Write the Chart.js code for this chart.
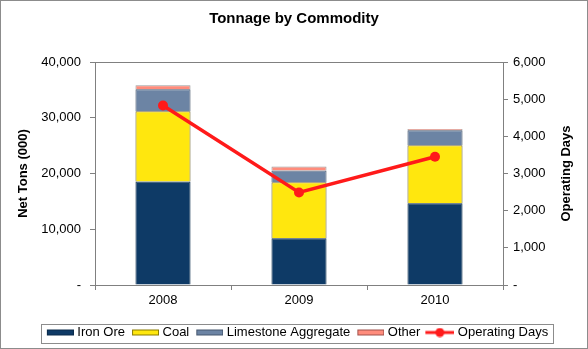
<!DOCTYPE html>
<html>
<head>
<meta charset="utf-8">
<script src="https://cdn.jsdelivr.net/npm/chart.js@4.4.0/dist/chart.umd.min.js"></script>
<style>
  body { margin: 0; background: #fff; }
  canvas { display: block; }
</style>
</head>
<body>
<canvas id="myChart" width="588" height="349"></canvas>
<script>
'use strict';

// data (tons in thousands)
let years = ['2008', '2009', '2010'];
let ironOre = [18550, 8400, 14650];
let coal = [12600, 10050, 10400];
let limestone = [3950, 2080, 2700];
let other = [720, 720, 250];
let operatingDays = [4830, 2490, 3450];

let leftTicks = [0, 10000, 20000, 30000, 40000];
let rightTicks = [0, 1000, 2000, 3000, 4000, 5000, 6000];

let fontName = '"Liberation Sans", Arial, sans-serif';
let axisGray = '#808080';

function fmt(v){
    if (v === 0) return '-';
    return v.toLocaleString('en-US');
}

// legend pictures: 7px blank on the left gives the gap between items,
// the mark sits at the right edge so the text follows closely
let imgW = 37;
function swatch(fill, stroke){
    let c = document.createElement('canvas');
    c.width = imgW; c.height = 10;
    let g = c.getContext('2d');
    g.fillStyle = fill;
    g.fillRect(10, 2, 27, 6);
    g.strokeStyle = stroke;
    g.lineWidth = 1;
    g.strokeRect(10.5, 2.5, 26, 5);
    return c;
}
function lineSwatch(color){
    let c = document.createElement('canvas');
    c.width = imgW; c.height = 10;
    let g = c.getContext('2d');
    g.strokeStyle = color;
    g.lineWidth = 3;
    g.beginPath(); g.moveTo(8, 5); g.lineTo(37, 5); g.stroke();
    g.fillStyle = color;
    g.beginPath(); g.arc(22.5, 5, 4.5, 0, Math.PI * 2); g.fill();
    return c;
}

let legendImgs = [
    swatch('#0E3A66', '#0a2a4a'),
    swatch('#FFE70E', '#8a7a00'),
    swatch('#6C84A4', '#45566e'),
    swatch('#FF8C7C', '#a0504a'),
    lineSwatch('#FF1A1A')
];

// frames (picture, plot area top, legend) and the right axis title
let framePlugin = {
    id: 'frames',
    afterDraw(chart){
        let ctx = chart.ctx;
        let a = chart.chartArea;
        ctx.save();
        ctx.lineWidth = 1;
        ctx.strokeStyle = axisGray;
        ctx.beginPath();
        ctx.moveTo(a.left, a.top + 0.5);
        ctx.lineTo(a.right, a.top + 0.5);
        ctx.stroke();

        let boxes = chart.legend.legendHitBoxes;
        if (boxes && boxes.length){
            let l = boxes[0].left + 1;
            let last = boxes[boxes.length - 1];
            let r = last.left + last.width + 5;
            let t = boxes[0].top - 2;
            let b = boxes[0].top + 17;
            ctx.strokeStyle = '#8c8c8c';
            ctx.strokeRect(Math.round(l) + 0.5, Math.round(t) + 0.5, Math.round(r - l), Math.round(b - t));
        }

        ctx.strokeStyle = '#8c8c8c';
        ctx.strokeRect(0.5, 0.5, chart.width - 1, chart.height - 1);

        // right title reads bottom to top like the left one
        ctx.translate(566, (a.top + a.bottom) / 2);
        ctx.rotate(-Math.PI / 2);
        ctx.fillStyle = '#000';
        ctx.font = 'bold 13px ' + fontName;
        ctx.textAlign = 'center';
        ctx.textBaseline = 'middle';
        ctx.fillText('Operating Days', 0, 0);
        ctx.restore();
    }
};

let ctx = document.getElementById('myChart').getContext('2d');
let chart = new Chart(ctx, {
    type: 'bar',
    data: {
        labels: years,
        datasets: [{
            label: 'Iron Ore',
            data: ironOre,
            backgroundColor: '#0E3A66',
            borderColor: '#0a2a4a',
            borderWidth: 1,
            stack: 's',
            order: 1
        },{
            label: 'Coal',
            data: coal,
            backgroundColor: '#FFE70E',
            borderColor: '#6f6630',
            borderWidth: 1,
            stack: 's',
            order: 1
        },{
            label: 'Limestone Aggregate',
            data: limestone,
            backgroundColor: '#6C84A4',
            borderColor: '#3f4f66',
            borderWidth: 1,
            stack: 's',
            order: 1
        },{
            label: 'Other',
            data: other,
            backgroundColor: '#FF8C7C',
            borderColor: '#9a9a9a',
            borderWidth: 1,
            stack: 's',
            order: 1
        },{
            type: 'line',
            label: 'Operating Days',
            data: operatingDays,
            yAxisID: 'y1',
            borderColor: '#FF1A1A',
            backgroundColor: '#FF1A1A',
            borderWidth: 3.5,
            pointRadius: 5,
            pointHoverRadius: 5,
            pointBorderWidth: 0,
            tension: 0,
            order: 0
        }]
    },
    options: {
        responsive: false,
        animation: false,
        devicePixelRatio: 1,
        layout: { padding: { left: 0, right: 0, top: 0, bottom: 0 } },
        datasets: {
            bar: { barPercentage: 0.405, categoryPercentage: 1 }
        },
        scales: {
            x: {
                stacked: true,
                grid: { display: true, drawOnChartArea: false, drawTicks: true, tickLength: 5, color: axisGray, offset: true },
                border: { display: true, color: axisGray },
                ticks: { color: '#000', font: { family: fontName, size: 13 }, padding: 3 },
                afterFit(scale){ scale.height = 41; }
            },
            y: {
                stacked: true,
                position: 'left',
                min: 0,
                max: 40000,
                afterBuildTicks(scale){ scale.ticks = leftTicks.map(v => ({ value: v })); },
                grid: { display: true, drawOnChartArea: false, drawTicks: true, tickLength: 5, color: axisGray },
                border: { display: true, color: axisGray },
                ticks: { color: '#000', font: { family: fontName, size: 13 }, padding: 9, callback: fmt },
                title: { display: true, text: 'Net Tons (000)', color: '#000', font: { family: fontName, size: 13, weight: 'bold' }, padding: { top: 16, bottom: 0 } },
                afterFit(scale){ scale.width = 95; }
            },
            y1: {
                position: 'right',
                min: 0,
                max: 6000,
                afterBuildTicks(scale){ scale.ticks = rightTicks.map(v => ({ value: v })); },
                grid: { display: true, drawOnChartArea: false, drawTicks: true, tickLength: 5, color: axisGray },
                border: { display: true, color: axisGray },
                ticks: { color: '#000', font: { family: fontName, size: 13 }, padding: 5, callback: fmt },
                afterFit(scale){ scale.width = 85; }
            }
        },
        plugins: {
            title: {
                display: true,
                text: 'Tonnage by Commodity',
                color: '#000',
                font: { family: fontName, size: 15, weight: 'bold' },
                padding: { top: 10, bottom: 34 }
            },
            legend: {
                position: 'bottom',
                labels: {
                    color: '#000',
                    font: { family: fontName, size: 13 },
                    usePointStyle: true,
                    pointStyleWidth: imgW - 6,
                    boxHeight: 10,
                    padding: 0,
                    sort: (a, b) => a.datasetIndex - b.datasetIndex,
                    generateLabels(chart){
                        let items = Chart.defaults.plugins.legend.labels.generateLabels(chart);
                        items.forEach(it => { it.pointStyle = legendImgs[it.datasetIndex]; });
                        return items;
                    }
                }
            },
            tooltip: { enabled: false }
        }
    },
    plugins: [framePlugin]
});
</script>
</body>
</html>
